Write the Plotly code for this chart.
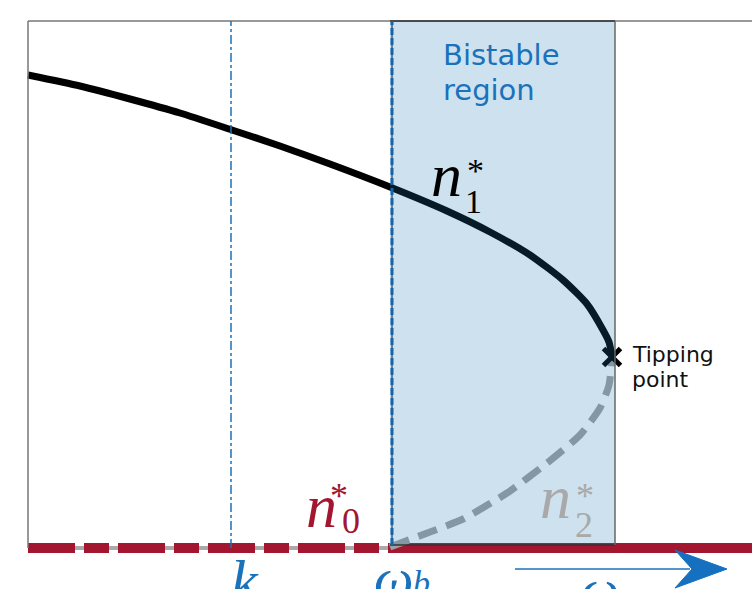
import plotly.graph_objects as go

# Stable upper branch n1* (control parameter, population level)
upper_x = [0.00, 0.52, 1.02, 1.52, 2.04, 2.52, 3.02, 3.62, 4.19, 4.62,
           5.02, 5.35, 5.59, 5.75, 5.81, 5.84]
upper_y = [4.73, 4.62, 4.49, 4.35, 4.18, 4.02, 3.84, 3.61, 3.37, 3.16,
           2.93, 2.68, 2.44, 2.18, 2.06, 1.91]

# Unstable middle branch n2*
middle_x = [3.62, 4.02, 4.35, 4.79, 5.19, 5.52, 5.72, 5.81, 5.84]
middle_y = [0.01, 0.16, 0.29, 0.55, 0.85, 1.13, 1.40, 1.63, 1.91]

# Extinction branch n0* (unstable below omega_b, stable above)
zero_unstable_x = [0.00, 3.62]
zero_stable_x = [3.62, 7.30]
zero_y = [0.0, 0.0]

tip_x, tip_y = 5.84, 1.91
k_pos = 2.03
omega_b = 3.64
bistable_right = 5.87
top = 5.27

RED = "#a3162f"
BLUE = "#1a72bb"

fig = go.Figure()

# gray under-line of the dashed extinction branch
fig.add_trace(go.Scatter(x=zero_unstable_x, y=zero_y, mode="lines",
                         line=dict(color="#aaaaaa", width=4), hoverinfo="skip"))
fig.add_trace(go.Scatter(x=zero_unstable_x, y=zero_y, mode="lines",
                         line=dict(color=RED, width=10, dash="47px,9px,25px,9px"),
                         hoverinfo="skip"))
fig.add_trace(go.Scatter(x=zero_stable_x, y=zero_y, mode="lines",
                         line=dict(color=RED, width=10), hoverinfo="skip"))

fig.add_trace(go.Scatter(x=upper_x, y=upper_y, mode="lines",
                         line=dict(color="black", width=7, shape="spline", smoothing=0.6),
                         hoverinfo="skip"))
fig.add_trace(go.Scatter(x=middle_x, y=middle_y, mode="lines",
                         line=dict(color="#a0a0a0", width=7, dash="20px,10px",
                                   shape="spline", smoothing=0.6),
                         hoverinfo="skip"))
fig.add_trace(go.Scatter(x=[tip_x], y=[tip_y], mode="markers",
                         marker=dict(symbol="x-thin", size=17,
                                     line=dict(color="black", width=5)),
                         hoverinfo="skip"))

shapes = [
    # frame
    dict(type="line", x0=0, x1=0, y0=0, y1=top, line=dict(color="#777777", width=1.5)),
    dict(type="line", x0=0, x1=7.3, y0=top, y1=top, line=dict(color="#777777", width=1.5)),
    # k marker
    dict(type="line", x0=k_pos, x1=k_pos, y0=0, y1=top,
         line=dict(color=BLUE, width=1.5, dash="dashdot")),
    # bistable region, tinted over the curves
    dict(type="rect", x0=omega_b - 0.02, x1=bistable_right, y0=0.03, y1=top,
         fillcolor="rgba(31,119,180,0.22)", line=dict(width=0), layer="above"),
    dict(type="line", x0=omega_b - 0.02, x1=bistable_right, y0=top, y1=top,
         line=dict(color="#333333", width=1.5), layer="above"),
    dict(type="line", x0=omega_b - 0.02, x1=bistable_right, y0=0.03, y1=0.03,
         line=dict(color="#333333", width=1.5), layer="above"),
    dict(type="line", x0=bistable_right, x1=bistable_right, y0=0.03, y1=top,
         line=dict(color="#666666", width=1.5), layer="above"),
    dict(type="line", x0=omega_b, x1=omega_b, y0=0.03, y1=top,
         line=dict(color="#1a1a1a", width=1), layer="above"),
    dict(type="line", x0=omega_b, x1=omega_b, y0=0.03, y1=top,
         line=dict(color="#1565a8", width=3, dash="7px,3px"), layer="above"),
    # control-parameter arrow
    dict(type="line", x0=4.87, x1=6.62, y0=-0.21, y1=-0.21,
         line=dict(color=BLUE, width=1.5), layer="above"),
    dict(type="path", path="M 6.99,-0.21 L 6.47,-0.02 L 6.64,-0.21 L 6.47,-0.40 Z",
         fillcolor="#1570c0", line=dict(color="#1570c0", width=1), layer="above"),
]

SERIF = "Liberation Serif"


def ann(x, y, text, size, color, family=SERIF, xanchor="center"):
    return dict(x=x, y=y, text=text, showarrow=False, xanchor=xanchor, yanchor="middle",
                font=dict(family=family, size=size, color=color))


annotations = [
    ann(4.13, 4.93, "Bistable", 29, BLUE, "DejaVu Sans", "left"),
    ann(4.13, 4.58, "region", 29, BLUE, "DejaVu Sans", "left"),
    ann(6.02, 1.94, "Tipping", 22, "#111111", "DejaVu Sans", "left"),
    ann(6.02, 1.69, "point", 22, "#111111", "DejaVu Sans", "left"),
    # n1*
    ann(4.18, 3.73, "<i>n</i>", 62, "black"),
    ann(4.45, 3.47, "1", 34, "black"),
    ann(4.47, 3.78, "*", 34, "black"),
    # n0*
    ann(2.93, 0.42, "<i>n</i>", 62, RED),
    ann(3.23, 0.27, "0", 36, RED),
    ann(3.11, 0.52, "*", 36, RED),
    # n2*
    ann(5.27, 0.51, "<i>n</i>", 62, "#a9a9a9"),
    ann(5.56, 0.23, "2", 36, "#a9a9a9"),
    ann(5.57, 0.52, "*", 36, "#a9a9a9"),
    # axis marks below the extinction branch
    ann(2.17, -0.33, "<i>k</i>", 60, BLUE),
    ann(3.66, -0.30, "<i>ω</i>", 56, BLUE),
    ann(3.93, -0.34, "<i>b</i>", 34, BLUE),
    ann(5.72, -0.41, "<i>ω</i>", 56, BLUE),
]

fig.update_layout(
    width=752, height=589,
    margin=dict(l=0, r=0, t=0, b=0),
    paper_bgcolor="white", plot_bgcolor="white",
    showlegend=False,
    xaxis=dict(range=[-0.28, 7.24], visible=False, fixedrange=True),
    yaxis=dict(range=[-0.41, 5.48], visible=False, fixedrange=True),
    shapes=shapes,
    annotations=annotations,
)

fig.write_html("out.html")
